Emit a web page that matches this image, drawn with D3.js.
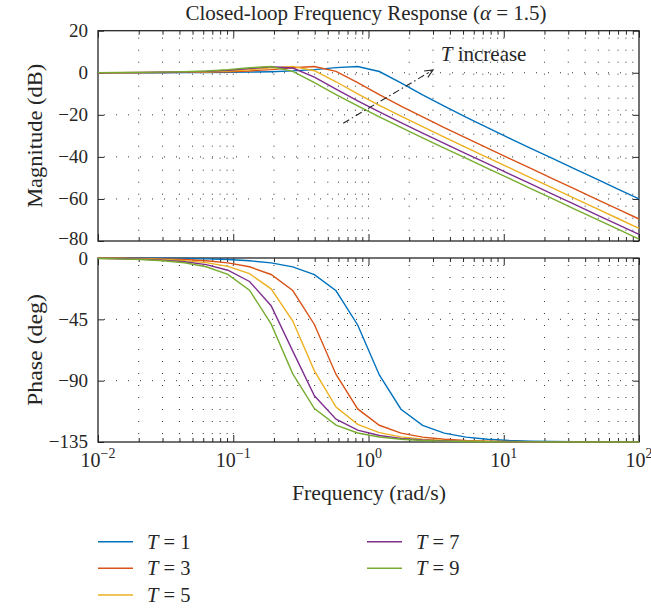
<!DOCTYPE html>
<html><head><meta charset="utf-8">
<script src="https://cdn.jsdelivr.net/npm/d3@7"></script>
<style>body{margin:0;background:#fff} text{font-family:"Liberation Serif","Times New Roman",serif;fill:#262626}</style>
</head><body>
<svg id="c" width="651" height="610"></svg>
<script>
// ---- data ----
const freq = [0.01, 0.014454, 0.020893, 0.0302, 0.043652, 0.063096, 0.091201, 0.131826, 0.190546, 0.275423, 0.398107, 0.57544, 0.831764, 1.202264, 1.737801, 2.511886, 3.630781, 5.248075, 7.585776, 10.964782, 15.848932, 22.908677, 33.113112, 47.863009, 69.183097, 100];
const Tvalues = [1, 3, 5, 7, 9];
const magT1 = [0.01, 0.01, 0.02, 0.03, 0.06, 0.10, 0.17, 0.29, 0.51, 0.88, 1.50, 2.42, 2.99, 0.59, -4.78, -10.50, -15.92, -21.09, -26.11, -31.03, -35.90, -40.74, -45.57, -50.38, -55.19, -59.99];
const magT3 = [0.02, 0.03, 0.06, 0.10, 0.17, 0.29, 0.51, 0.87, 1.49, 2.40, 2.99, 0.64, -4.71, -10.43, -15.86, -21.03, -26.05, -30.97, -35.84, -40.69, -45.51, -50.32, -55.13, -59.94, -64.74, -69.54];
const magT5 = [0.03, 0.05, 0.09, 0.16, 0.28, 0.49, 0.84, 1.43, 2.33, 3.01, 0.96, -4.28, -10.01, -15.46, -20.65, -25.67, -30.60, -35.48, -40.32, -45.15, -49.96, -54.77, -59.57, -64.38, -69.18, -73.98];
const magT7 = [0.04, 0.07, 0.13, 0.23, 0.39, 0.68, 1.17, 1.95, 2.88, 2.27, -2.05, -7.79, -13.36, -18.64, -23.72, -28.68, -33.58, -38.43, -43.26, -48.08, -52.89, -57.69, -62.50, -67.30, -72.10, -76.90];
const magT9 = [0.06, 0.10, 0.17, 0.29, 0.50, 0.87, 1.48, 2.39, 3.00, 0.69, -4.64, -10.36, -15.79, -20.97, -25.99, -30.91, -35.79, -40.63, -45.45, -50.27, -55.07, -59.88, -64.68, -69.48, -74.28, -79.08];
const phT1 = [-0.04, -0.07, -0.12, -0.21, -0.37, -0.65, -1.14, -2.01, -3.58, -6.50, -12.19, -24.07, -49.15, -85.84, -110.94, -122.82, -128.51, -131.43, -133.00, -133.86, -134.35, -134.63, -134.79, -134.88, -134.93, -134.96];
const phT3 = [-0.12, -0.21, -0.37, -0.64, -1.13, -1.99, -3.55, -6.45, -12.09, -23.85, -48.76, -85.43, -110.73, -122.72, -128.46, -131.40, -132.98, -133.85, -134.35, -134.63, -134.79, -134.88, -134.93, -134.96, -134.98, -134.99];
const phT5 = [-0.20, -0.35, -0.62, -1.08, -1.91, -3.40, -6.16, -11.51, -22.62, -46.27, -82.82, -109.39, -122.09, -128.15, -131.24, -132.89, -133.80, -134.32, -134.61, -134.78, -134.87, -134.93, -134.96, -134.98, -134.99, -134.99];
const phT7 = [-0.28, -0.50, -0.87, -1.53, -2.71, -4.87, -8.97, -17.24, -34.98, -68.31, -101.07, -118.24, -126.27, -130.26, -132.36, -133.51, -134.15, -134.51, -134.72, -134.84, -134.91, -134.95, -134.97, -134.98, -134.99, -135.00];
const phT9 = [-0.37, -0.64, -1.12, -1.98, -3.52, -6.40, -12.00, -23.65, -48.35, -85.02, -110.52, -122.62, -128.41, -131.37, -132.97, -133.85, -134.34, -134.62, -134.78, -134.88, -134.93, -134.96, -134.98, -134.99, -134.99, -135.00];
const magSeries = [magT1, magT3, magT5, magT7, magT9];
const phaseSeries = [phT1, phT3, phT5, phT7, phT9];
const colors = ["#0072BD", "#D95319", "#EDB120", "#7E2F8E", "#77AC30"];
const magTicks = [20, 0, -20, -40, -60, -80];
const phaseTicks = [0, -45, -90, -135];
const xTickExps = [-2, -1, 0, 1, 2];
const titleText = "Closed-loop Frequency Response (";
const arrowFrom = [0.65, -24];   // [freq, dB]
const arrowTo = [3.0, 1.3];
const arrowLabelAt = [3.42, 5.6];

// ---- layout ----
const svg = d3.select("#c");
const X0 = 98, X1 = 639;
const x = d3.scaleLog().domain([0.01, 100]).range([X0, X1]);
const yMag = d3.scaleLinear().domain([-80, 20]).range([241, 30.7]);
const yPh = d3.scaleLinear().domain([-135, 0]).range([442, 258]);

const majorX = xTickExps.map(e => Math.pow(10, e));
const minorX = [];
for (let e = -2; e < 2; e++) for (let m = 2; m <= 9; m++) minorX.push(m * Math.pow(10, e));

function panel(y, yTicks, nudge) {
  const [yb, yt] = y.range();
  const g = svg.append("g");
  g.selectAll("line.vg").data(minorX.concat(majorX.slice(1, -1))).join("line")
    .attr("x1", d => x(d)).attr("x2", d => x(d)).attr("y1", yt).attr("y2", yb)
    .attr("stroke", "#333").attr("stroke-width", 1).attr("stroke-dasharray", "1,11").attr("stroke-dashoffset", 5);
  g.selectAll("line.hg").data(yTicks.slice(1, -1)).join("line")
    .attr("x1", X0).attr("x2", X1).attr("y1", d => y(d)).attr("y2", d => y(d))
    .attr("stroke", "#333").attr("stroke-width", 1).attr("stroke-dasharray", "1,11").attr("stroke-dashoffset", 6);
  const addAxis = (axis, tr) => {
    const a = g.append("g").attr("transform", tr).call(axis);
    a.select(".domain").remove();
    a.selectAll(".tick line").attr("stroke", "#262626").attr("stroke-width", 1);
    a.selectAll("text").remove();
  };
  addAxis(d3.axisTop(x).tickValues(majorX).tickSize(7).tickFormat(""), `translate(0,${yb})`);
  addAxis(d3.axisTop(x).tickValues(minorX).tickSize(4).tickFormat(""), `translate(0,${yb})`);
  addAxis(d3.axisBottom(x).tickValues(majorX).tickSize(7).tickFormat(""), `translate(0,${yt})`);
  addAxis(d3.axisBottom(x).tickValues(minorX).tickSize(4).tickFormat(""), `translate(0,${yt})`);
  addAxis(d3.axisRight(y).tickValues(yTicks).tickSize(6).tickFormat(""), `translate(${X0},0)`);
  addAxis(d3.axisLeft(y).tickValues(yTicks).tickSize(6).tickFormat(""), `translate(${X1},0)`);
  g.append("rect").attr("x", X0).attr("y", yt).attr("width", X1 - X0).attr("height", yb - yt)
    .attr("fill", "none").attr("stroke", "#262626").attr("stroke-width", 1.3);
  g.selectAll("text.yl").data(yTicks).join("text")
    .attr("x", 88).attr("y", d => y(d) + (nudge[d] || 0)).attr("dy", "0.34em").attr("text-anchor", "end")
    .attr("font-size", 19).text(d => d < 0 ? "\u2212" + (-d) : d);
  return g;
}

panel(yMag, magTicks, {"-80": -2});
panel(yPh, phaseTicks, {"0": 0.5});

const lineMag = d3.line().x((d, i) => x(freq[i])).y(d => yMag(d));
const linePh = d3.line().x((d, i) => x(freq[i])).y(d => yPh(d));
magSeries.forEach((s, k) => svg.append("path").attr("d", lineMag(s)).attr("fill", "none")
  .attr("stroke", colors[k]).attr("stroke-width", 1.4));
phaseSeries.forEach((s, k) => svg.append("path").attr("d", linePh(s)).attr("fill", "none")
  .attr("stroke", colors[k]).attr("stroke-width", 1.4));

xTickExps.forEach(e => {
  const t = svg.append("text").attr("x", x(Math.pow(10, e))).attr("y", 467)
    .attr("text-anchor", "middle").attr("font-size", 20);
  t.append("tspan").text("10");
  t.append("tspan").attr("dy", -9).attr("font-size", 14).text(e < 0 ? "\u2212" + (-e) : String(e));
});

svg.append("text").attr("x", 369).attr("y", 500).attr("text-anchor", "middle")
  .attr("font-size", 21).attr("textLength", 154).attr("lengthAdjust", "spacingAndGlyphs").text("Frequency (rad/s)");
svg.append("text").attr("transform", `translate(42,${(30.7 + 241) / 2}) rotate(-90)`).attr("text-anchor", "middle")
  .attr("font-size", 21).attr("textLength", 144).attr("lengthAdjust", "spacingAndGlyphs").text("Magnitude (dB)");
svg.append("text").attr("transform", `translate(42,350) rotate(-90)`).attr("text-anchor", "middle")
  .attr("font-size", 21).attr("textLength", 112).attr("lengthAdjust", "spacingAndGlyphs").text("Phase (deg)");
const title = svg.append("text").attr("x", 366).attr("y", 20).attr("text-anchor", "middle")
  .attr("font-size", 20).attr("textLength", 361).attr("lengthAdjust", "spacingAndGlyphs");
title.append("tspan").text(titleText);
title.append("tspan").attr("font-style", "italic").text("\u03b1");
title.append("tspan").text(" = 1.5)");

const ax0 = x(arrowFrom[0]), ay0 = yMag(arrowFrom[1]), ax1 = x(arrowTo[0]), ay1 = yMag(arrowTo[1]);
svg.append("line").attr("x1", ax0).attr("y1", ay0).attr("x2", ax1).attr("y2", ay1)
  .attr("stroke", "#262626").attr("stroke-width", 1.1).attr("stroke-dasharray", "7,3,1.5,3");
const ang = Math.atan2(ay1 - ay0, ax1 - ax0), hl = 9, ha = 0.42;
svg.append("path").attr("d", `M${ax1 - hl * Math.cos(ang - ha)},${ay1 - hl * Math.sin(ang - ha)} L${ax1},${ay1} L${ax1 - hl * Math.cos(ang + ha)},${ay1 - hl * Math.sin(ang + ha)}`)
  .attr("fill", "none").attr("stroke", "#262626").attr("stroke-width", 1.1);
const lab = svg.append("text").attr("x", x(arrowLabelAt[0])).attr("y", yMag(arrowLabelAt[1])).attr("font-size", 21);
lab.append("tspan").attr("font-style", "italic").text("T");
lab.append("tspan").text(" increase");

const legPos = [[98, 541.7], [98, 568.3], [98, 595], [367, 541.7], [367, 568.3]];
Tvalues.forEach((T, k) => {
  const [lx, ly] = legPos[k];
  svg.append("line").attr("x1", lx).attr("x2", lx + 35).attr("y1", ly).attr("y2", ly)
    .attr("stroke", colors[k]).attr("stroke-width", 1.5);
  const t = svg.append("text").attr("x", lx + 49).attr("y", ly + 6.8).attr("font-size", 20.5);
  t.append("tspan").attr("font-style", "italic").text("T");
  t.append("tspan").text(" = " + T);
});
</script>
</body></html>
